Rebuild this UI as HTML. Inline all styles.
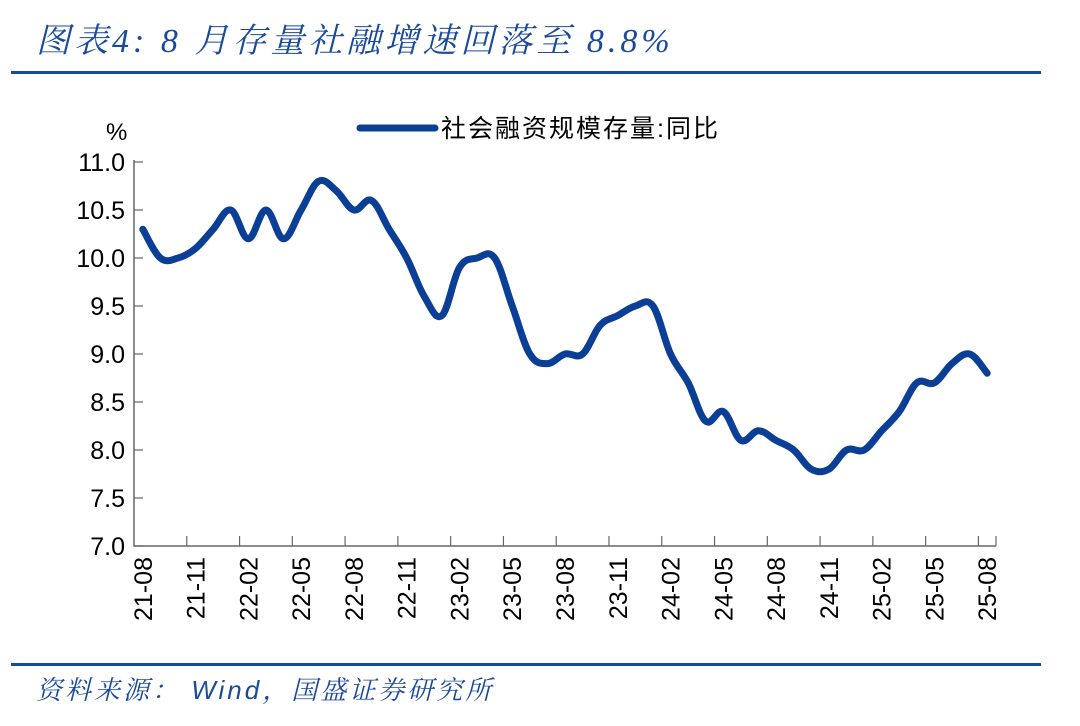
<!DOCTYPE html>
<html><head><meta charset="utf-8">
<style>
body{margin:0;background:#fff;}
svg{display:block;}
</style></head>
<body>
<svg width="1080" height="726" viewBox="0 0 1080 726">
<text x="36" y="52" font-family="'Liberation Serif','Noto Serif CJK SC',serif" font-style="italic" font-size="34" letter-spacing="4" fill="#1a4a9c">图表4:  8 月存量社融增速回落至 8.8%</text>
<rect x="11" y="71" width="1030" height="3" fill="#1a4a9c"/>
<rect x="11" y="663" width="1030" height="3" fill="#1a4a9c"/>
<text x="36" y="699" font-family="'Liberation Sans','Noto Serif CJK SC',sans-serif" font-style="italic" font-size="26" letter-spacing="3" fill="#1a4a9c">资料来源： Wind，国盛证券研究所</text>
<text x="106" y="140" font-family="'Liberation Sans',sans-serif" font-size="24" fill="#000">%</text>
<g>
<line x1="360" y1="128" x2="435" y2="128" stroke="#0a3f95" stroke-width="7" stroke-linecap="round"/>
<text x="441" y="137" font-family="'Liberation Sans','Noto Sans CJK SC',sans-serif" font-size="25" letter-spacing="2" fill="#000">社会融资规模存量:同比</text>
</g>
<g id="axes"></g>
<g id="marks"></g>
</svg>
<script>
const categories=["21-08","21-09","21-10","21-11","21-12","22-01","22-02","22-03","22-04","22-05","22-06","22-07","22-08","22-09","22-10","22-11","22-12","23-01","23-02","23-03","23-04","23-05","23-06","23-07","23-08","23-09","23-10","23-11","23-12","24-01","24-02","24-03","24-04","24-05","24-06","24-07","24-08","24-09","24-10","24-11","24-12","25-01","25-02","25-03","25-04","25-05","25-06","25-07","25-08"];
const values=[10.3,10.0,10.0,10.1,10.3,10.5,10.2,10.5,10.2,10.5,10.8,10.7,10.5,10.6,10.3,10.0,9.6,9.4,9.9,10.0,10.0,9.5,9.0,8.9,9.0,9.0,9.3,9.4,9.5,9.5,9.0,8.7,8.3,8.4,8.1,8.2,8.1,8.0,7.8,7.8,8.0,8.0,8.2,8.4,8.7,8.7,8.9,9.0,8.8];
const yTicks=[7.0,7.5,8.0,8.5,9.0,9.5,10.0,10.5,11.0];
const NS="http://www.w3.org/2000/svg";
const X0=134,X1=996,Y0=546,Y1=162,yMin=7,yMax=11;
const bw=(X1-X0)/categories.length;
const xs=i=>X0+bw*(i+0.5);
const ys=v=>Y0-(v-yMin)/(yMax-yMin)*(Y0-Y1);
const axes=document.getElementById('axes'),marks=document.getElementById('marks');
function mk(tag,attrs,parent){const e=document.createElementNS(NS,tag);for(const k in attrs)e.setAttribute(k,attrs[k]);parent.appendChild(e);return e;}
const ax=mk('path',{d:`M${X0} ${Y1-2}V${Y0}H${X1}`,fill:'none',stroke:'#666','stroke-width':1.5},axes);


yTicks.forEach(t=>{
  const y=ys(t);
  const l=mk('line',{x1:X0,x2:X0+9,y1:y,y2:y,stroke:'#666','stroke-width':1.2},axes);
  
  
  const tx=mk('text',{x:125,y:y+9,'text-anchor':'end','font-family':"'Liberation Sans',sans-serif",'font-size':25,fill:'#000'},axes);
  tx.textContent=t.toFixed(1);
  
  
});
categories.forEach((c,i)=>{
  if(i%3!==0)return;
  const xb=X0+bw*i;
  if(i>0){const l=mk('line',{x1:xb,x2:xb,y1:Y0,y2:Y0-10,stroke:'#666','stroke-width':1.2},axes);
  
  }
  const x=xs(i)+9;
  const tx=mk('text',{x:x,y:557,transform:`rotate(-90 ${x} 557)`,'text-anchor':'end','font-family':"'Liberation Sans',sans-serif",'font-size':25,fill:'#000'},axes);
  tx.textContent=c;
  
  
});
{const xb=X0+bw*categories.length;const l=mk('line',{x1:xb,x2:xb,y1:Y0,y2:Y0-10,stroke:'#666','stroke-width':1.2},axes);

}
const pts=values.map((v,i)=>[xs(i),ys(v)]);
let d=`M${pts[0][0]} ${pts[0][1]}`;
const tn=0.18;
for(let i=0;i<pts.length-1;i++){
  const p0=pts[Math.max(0,i-1)],p1=pts[i],p2=pts[i+1],p3=pts[Math.min(pts.length-1,i+2)];
  const c1=[p1[0]+(p2[0]-p0[0])*tn,p1[1]+(p2[1]-p0[1])*tn];
  const c2=[p2[0]-(p3[0]-p1[0])*tn,p2[1]-(p3[1]-p1[1])*tn];
  d+=`C${c1[0]} ${c1[1]} ${c2[0]} ${c2[1]} ${p2[0]} ${p2[1]}`;
}
const line=mk('path',{d:d,fill:'none',stroke:'#0a3f95','stroke-width':7,'stroke-linecap':'round','stroke-linejoin':'round'},marks);


</script>
</body></html>
